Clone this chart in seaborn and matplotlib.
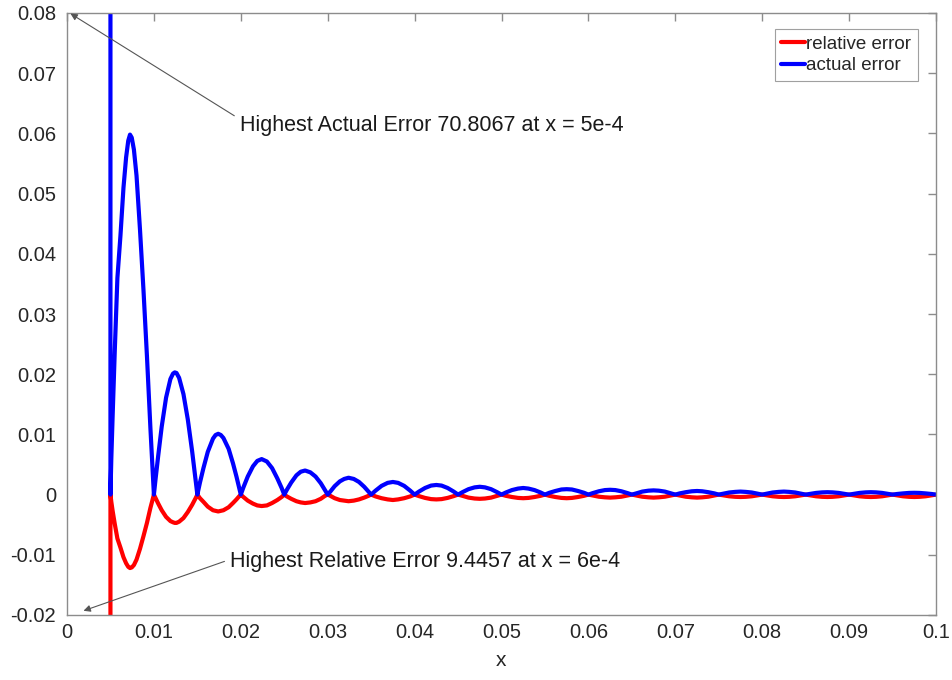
import numpy as np
import pandas as pd
import matplotlib
matplotlib.use("Agg")
import matplotlib.pyplot as plt
import seaborn as sns
from matplotlib.lines import Line2D

# ---- data ----
x_vals = [
    0.00495,
    # hump 0.005-0.010
    0.00500, 0.00510, 0.00525, 0.00550, 0.00580, 0.00615, 0.00650, 0.00680,
    0.00705, 0.00725, 0.00745, 0.00770, 0.00800, 0.00840, 0.00880, 0.00920, 0.00960, 0.00985,
    # hump 0.010-0.015
    0.0100, 0.0102, 0.0105, 0.0109, 0.0114, 0.0119, 0.0122, 0.0124, 0.0126, 0.0129,
    0.0134, 0.0139, 0.0144, 0.0148,
    # hump 0.015-0.020
    0.0150, 0.0153, 0.0157, 0.0162, 0.0168, 0.0171, 0.0174, 0.0177, 0.0180, 0.0186,
    0.0191, 0.0195, 0.0198,
    # hump 0.020-0.025
    0.0200, 0.0203, 0.0208, 0.0214, 0.0219, 0.0224, 0.0230, 0.0236, 0.0242, 0.0247,
    # hump 0.025-0.030
    0.0250, 0.0253, 0.0258, 0.0264, 0.0269, 0.0274, 0.0280, 0.0286, 0.0292, 0.0297,
    # hump 0.030-0.035
    0.0300, 0.0303, 0.0308, 0.0314, 0.0319, 0.0324, 0.0330, 0.0336, 0.0342, 0.0347,
    # humps 0.035 ... 0.100
    0.0350, 0.0355, 0.0362, 0.0369, 0.0375, 0.0381, 0.0388, 0.0395,
    0.0400, 0.0405, 0.0412, 0.0419, 0.0425, 0.0431, 0.0438, 0.0445,
    0.0450, 0.0455, 0.0462, 0.0469, 0.0475, 0.0481, 0.0488, 0.0495,
    0.0500, 0.0505, 0.0512, 0.0519, 0.0525, 0.0531, 0.0538, 0.0545,
    0.0550, 0.0555, 0.0562, 0.0569, 0.0575, 0.0581, 0.0588, 0.0595,
    0.0600, 0.0605, 0.0612, 0.0619, 0.0625, 0.0631, 0.0638, 0.0645,
    0.0650, 0.0655, 0.0662, 0.0669, 0.0675, 0.0681, 0.0688, 0.0695,
    0.0700, 0.0705, 0.0712, 0.0719, 0.0725, 0.0731, 0.0738, 0.0745,
    0.0750, 0.0755, 0.0762, 0.0769, 0.0775, 0.0781, 0.0788, 0.0795,
    0.0800, 0.0805, 0.0812, 0.0819, 0.0825, 0.0831, 0.0838, 0.0845,
    0.0850, 0.0855, 0.0862, 0.0869, 0.0875, 0.0881, 0.0888, 0.0895,
    0.0900, 0.0905, 0.0912, 0.0919, 0.0925, 0.0931, 0.0938, 0.0945,
    0.0950, 0.0955, 0.0962, 0.0969, 0.0975, 0.0981, 0.0988, 0.0995,
    0.1000,
]

actual_error = [
    70.8067,
    0, 0.006, 0.013, 0.024, 0.036, 0.043, 0.051, 0.0560,
    0.0588, 0.0598, 0.0593, 0.0573, 0.053, 0.044, 0.034, 0.023, 0.011, 0.004,
    0, 0.0027, 0.0065, 0.0113, 0.0161, 0.0192, 0.0201, 0.0203, 0.0202, 0.0194,
    0.0167, 0.0125, 0.0072, 0.0025,
    0, 0.0020, 0.0044, 0.0071, 0.0093, 0.0099, 0.0101, 0.0099, 0.0094, 0.0076,
    0.0052, 0.0030, 0.0012,
    0, 0.0012, 0.0030, 0.0047, 0.0056, 0.0059, 0.0055, 0.0044, 0.0027, 0.0011,
    0, 0.0008, 0.0020, 0.0032, 0.0038, 0.0040, 0.0037, 0.0030, 0.0019, 0.0007,
    0, 0.0005, 0.0014, 0.0022, 0.0026, 0.0028, 0.0026, 0.0021, 0.0013, 0.0005,
    0, 0.00065, 0.00145, 0.00195, 0.0021, 0.00195, 0.00145, 0.00065,
    0, 0.0005, 0.0011, 0.0015, 0.0016, 0.0015, 0.0011, 0.0005,
    0, 0.0004, 0.0009, 0.0012, 0.0013, 0.0012, 0.0009, 0.0004,
    0, 0.00035, 0.00075, 0.0010, 0.0011, 0.0010, 0.00075, 0.00035,
    0, 0.0003, 0.0006, 0.00085, 0.0009, 0.00085, 0.0006, 0.0003,
    0, 0.00025, 0.00055, 0.00075, 0.0008, 0.00075, 0.00055, 0.00025,
    0, 0.0002, 0.0005, 0.00065, 0.0007, 0.00065, 0.0005, 0.0002,
    0, 0.0002, 0.0004, 0.00055, 0.0006, 0.00055, 0.0004, 0.0002,
    0, 0.00015, 0.00035, 0.00045, 0.0005, 0.00045, 0.00035, 0.00015,
    0, 0.00015, 0.00035, 0.00045, 0.0005, 0.00045, 0.00035, 0.00015,
    0, 0.00012, 0.00028, 0.00037, 0.0004, 0.00037, 0.00028, 0.00012,
    0, 0.00012, 0.00028, 0.00037, 0.0004, 0.00037, 0.00028, 0.00012,
    0, 0.0001, 0.0002, 0.00028, 0.0003, 0.00028, 0.0002, 0.0001,
    0,
]

relative_error = [
    -9.4457,
    0, -0.0012, -0.0027, -0.0049, -0.0073, -0.0088, -0.0104, -0.0114,
    -0.0120, -0.0122, -0.0121, -0.0117, -0.0108, -0.0090, -0.0069, -0.0047, -0.0022, -0.0008,
    0, -0.0006, -0.0015, -0.0026, -0.0037, -0.0044, -0.0046, -0.0047, -0.0047, -0.0045,
    -0.0039, -0.0029, -0.0017, -0.0006,
    0, -0.0006, -0.0012, -0.0020, -0.0026, -0.0027, -0.0028, -0.0027, -0.0026, -0.0021,
    -0.0014, -0.0008, -0.0003,
    0, -0.0004, -0.0010, -0.0015, -0.0018, -0.0019, -0.0018, -0.0014, -0.0009, -0.0004,
    0, -0.0003, -0.0007, -0.0011, -0.0013, -0.0014, -0.0013, -0.0011, -0.0007, -0.0002,
    0, -0.0002, -0.0006, -0.0009, -0.0010, -0.0011, -0.0010, -0.0008, -0.0005, -0.0002,
    0, -0.0003, -0.0006, -0.0008, -0.0009, -0.0008, -0.0006, -0.0003,
    0, -0.00025, -0.00055, -0.00075, -0.0008, -0.00075, -0.00055, -0.00025,
    0, -0.0002, -0.0005, -0.00065, -0.0007, -0.00065, -0.0005, -0.0002,
    0, -0.0002, -0.0004, -0.00055, -0.0006, -0.00055, -0.0004, -0.0002,
    0, -0.0002, -0.0004, -0.00055, -0.0006, -0.00055, -0.0004, -0.0002,
    0, -0.00015, -0.00035, -0.00045, -0.0005, -0.00045, -0.00035, -0.00015,
    0, -0.00015, -0.00035, -0.00045, -0.0005, -0.00045, -0.00035, -0.00015,
    0, -0.00015, -0.00035, -0.00045, -0.0005, -0.00045, -0.00035, -0.00015,
    0, -0.00012, -0.00028, -0.00037, -0.0004, -0.00037, -0.00028, -0.00012,
    0, -0.00012, -0.00028, -0.00037, -0.0004, -0.00037, -0.00028, -0.00012,
    0, -0.00012, -0.00028, -0.00037, -0.0004, -0.00037, -0.00028, -0.00012,
    0, -0.00012, -0.00028, -0.00037, -0.0004, -0.00037, -0.00028, -0.00012,
    0, -0.00012, -0.00028, -0.00037, -0.0004, -0.00037, -0.00028, -0.00012,
    0,
]

series_names = ["relative error", "actual error"]
series_colors = ["#ff0000", "#0000ff"]
x_ticks = [0, 0.01, 0.02, 0.03, 0.04, 0.05, 0.06, 0.07, 0.08, 0.09, 0.1]
x_ticklabels = ["0", "0.01", "0.02", "0.03", "0.04", "0.05", "0.06", "0.07", "0.08", "0.09", "0.1"]
y_ticks = [-0.02, -0.01, 0, 0.01, 0.02, 0.03, 0.04, 0.05, 0.06, 0.07, 0.08]
y_ticklabels = ["-0.02", "-0.01", "0", "0.01", "0.02", "0.03", "0.04", "0.05", "0.06", "0.07", "0.08"]
note_actual = "Highest Actual Error 70.8067 at x = 5e-4"
note_relative = "Highest Relative Error 9.4457 at x = 6e-4"

df = pd.concat([
    pd.DataFrame({"x": x_vals, "y": relative_error, "series": series_names[0]}),
    pd.DataFrame({"x": x_vals, "y": actual_error, "series": series_names[1]}),
], ignore_index=True)

# ---- style ----
sns.set_style("white")
plt.rcParams["font.family"] = ["Liberation Sans", "DejaVu Sans"]

fig = plt.figure(figsize=(9.52, 6.8), dpi=100)
ax = fig.add_axes([67 / 952, 1 - 615 / 680, (936 - 67) / 952, (615 - 13) / 680])

sns.lineplot(data=df, x="x", y="y", hue="series", hue_order=series_names,
             palette=series_colors, estimator=None, sort=False,
             linewidth=3.0, ax=ax, legend=False,
             solid_joinstyle="round", solid_capstyle="butt")

ax.set_xlim(0, 0.1)
ax.set_ylim(-0.02, 0.08)
ax.set_xticks(x_ticks)
ax.set_xticklabels(x_ticklabels)
ax.set_yticks(y_ticks)
ax.set_yticklabels(y_ticklabels)
ax.set_xlabel("x", fontsize=15, color="#262626", labelpad=6)
ax.set_ylabel("")

axis_gray = "#8c8c8c"
for sp in ax.spines.values():
    sp.set_visible(True)
    sp.set_color(axis_gray)
    sp.set_linewidth(1.0)
ax.tick_params(direction="in", length=6, width=1, color=axis_gray,
               top=True, right=True, labelsize=14.5, labelcolor="#262626")
ax.tick_params(axis="x", pad=6)
ax.tick_params(axis="y", pad=8)

# legend
handles = [Line2D([], [], color=c, lw=3.0) for c in series_colors]
leg = ax.legend(handles, series_names, loc="upper right",
                bbox_to_anchor=(918 / 952, 1 - 29 / 680), bbox_transform=fig.transFigure,
                fontsize=13.5, frameon=True, fancybox=False, framealpha=1,
                edgecolor="#a0a0a0", handlelength=1.25, handletextpad=0.1,
                borderpad=0.35, labelspacing=0.25, borderaxespad=0)
leg.get_frame().set_linewidth(0.8)

# annotations
ax.annotate(note_actual, xy=(0.0004, 0.0799), xytext=(0.0199, 0.0613),
            fontsize=15.5, color="#1a1a1a", va="center", ha="left",
            arrowprops=dict(arrowstyle="-|>", color="#555555", lw=0.8,
                            mutation_scale=10, shrinkA=2, shrinkB=0,
                            relpos=(0, 0.8)),
            annotation_clip=False)
ax.annotate(note_relative, xy=(0.0019, -0.0193), xytext=(0.0188, -0.0111),
            fontsize=15.5, color="#1a1a1a", va="center", ha="left",
            arrowprops=dict(arrowstyle="-|>", color="#555555", lw=0.8,
                            mutation_scale=10, shrinkA=2, shrinkB=0,
                            relpos=(0, 0.6)),
            annotation_clip=False)

fig.savefig("out.png", dpi=100, facecolor="white")
